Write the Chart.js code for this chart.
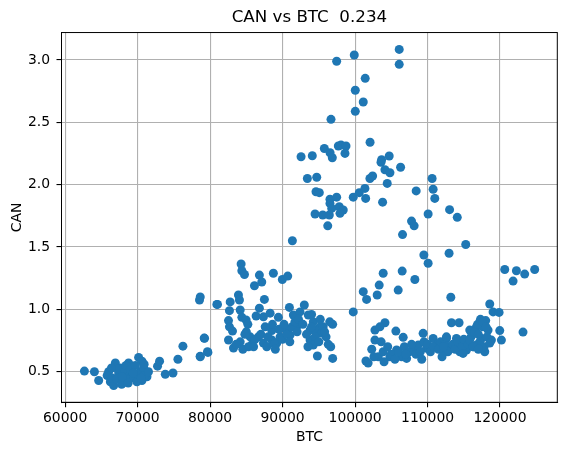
<!DOCTYPE html>
<html>
<head>
<meta charset="utf-8">
<script src="https://cdn.jsdelivr.net/npm/chart.js@4"></script>
<style>
  html, body { margin: 0; padding: 0; background: #fff; }
</style>
</head>
<body>
<canvas id="grafico" width="567" height="455"></canvas>
<script>
  // BTC (x) e CAN (y)
  const btc = [
    // grupo da esquerda
    62660, 64040, 64630, 66000, 66240, 66700, 66930, 67390, 67620, 68070,
    68540, 68760, 68990, 69230, 70140, 70600, 70370, 70830, 70600, 71290,
    72750, 73030, 73820, 74880, 75560, 76250, 78640, 79700, 79190, 78540,
    80930, 65800, 66500, 67100, 67300, 67800, 68200, 68400, 69000, 69500,
    69700, 69900, 70000, 71000, 70500, 67900, 66400, 68700, 69400, 70900,
    71500,
    // grupo do meio (parte baixa)
    91350, 84280, 84380, 84740, 86800, 87130, 86120, 88730, 89970, 90710,
    78640, 81020, 82770, 83910, 84050, 82670, 84150, 84380, 84970, 85210,
    82540, 82670, 83090, 87490, 86800, 86350, 87360, 88280, 89420, 90940,
    91490, 92410, 93000, 93550, 94240, 95160, 96910, 99750, 82540, 83230,
    84150, 84520, 85520, 86670, 87360, 87820, 88510, 88510, 89200, 89660,
    90480, 91030, 91950, 93790, 93790, 94240, 94800, 94700, 95400, 96640,
    96910, 78640, 79230, 79640,
    85000, 85800, 86200, 87000, 88000, 88900, 89500, 90000, 90600, 91300,
    91700, 92200, 92800, 93300, 94000, 94500, 95000, 95600, 96000, 96300,
    92000, 93500, 90200, 88600, 87600, 83600, 85300, 84800, 86000, 89000,
    91000, 95200, 94000, 95800, 96500,
    // grupo de cima
    106090, 106090, 99890, 97460, 101400, 100030, 101130, 100030, 96680, 102070,
    95760, 97690, 98060, 98750, 96550, 96860, 98610, 92550, 94100, 103660,
    104710, 103580, 104120, 104810, 106280, 102050, 102420, 104440, 110630, 110770,
    111000, 93420, 94710, 94610, 95070, 96540, 97460, 96540, 96780, 97820,
    98370, 97920, 94480, 95540, 96450, 96230, 99750, 100580, 101360, 101460,
    103800, 108430, 110080, 107790, 108150, 106550, 113040, 114100, 115270, 109490,
    112970, 110080,
    // grupo da direita
    120650, 122260, 123400, 124780, 121800, 103880, 106500, 108250, 103330, 105950,
    101130, 101590, 103050, 113210, 118580, 119040, 119870, 113300, 114350, 104120,
    102740, 103430, 102740, 105630, 106640, 109390, 110770, 112610, 113990, 115820,
    116740, 118020, 118350, 118810, 117890, 119960, 120190, 123170, 101500, 103200,
    103880, 104810, 105730, 106420, 107110, 108020, 108710, 109860, 111240, 112160,
    113080, 114450, 115370, 116740, 117430,
    104500, 105000, 105500, 106000, 106800, 107500, 107800, 108400, 109000, 109500,
    110000, 110400, 110800, 111500, 111800, 112400, 112800, 113500, 113800, 114200,
    114800, 115000, 115600, 116000, 116300, 116500, 117000, 117200, 117600, 117800,
    118200, 116900, 117300, 112000, 109200, 107000, 104000, 103600, 102600, 102300,
    101800, 117600, 118070, 112610, 112200, 114900, 115820, 116300, 118580, 117000
  ];

  const can = [
    0.505, 0.50, 0.43, 0.50, 0.42, 0.39, 0.57, 0.49, 0.53, 0.43,
    0.47, 0.57, 0.45, 0.50, 0.615, 0.585, 0.50, 0.53, 0.43, 0.46,
    0.545, 0.585, 0.48, 0.49, 0.60, 0.705, 0.625, 0.655, 0.77, 1.075,
    1.04, 0.47, 0.45, 0.44, 0.52, 0.40, 0.50, 0.55, 0.52, 0.46,
    0.55, 0.42, 0.48, 0.47, 0.45, 0.46, 0.53, 0.41, 0.49, 0.56,
    0.50,
    1.55, 1.364, 1.31, 1.28, 1.275, 1.22, 1.19, 1.29, 1.24, 1.267,
    1.10, 1.04, 1.06, 1.115, 1.075, 0.99, 0.995, 0.936, 0.915, 0.88,
    0.91, 0.86, 0.826, 1.08, 1.01, 0.947, 0.94, 0.97, 0.936, 1.016,
    0.955, 0.98, 1.035, 0.955, 0.90, 0.86, 0.88, 0.98, 0.755, 0.69,
    0.74, 0.68, 0.78, 0.78, 0.73, 0.70, 0.83, 0.755, 0.73, 0.78,
    0.834, 0.794, 0.86, 0.834, 0.754, 0.714, 0.626, 0.834, 0.81, 0.70,
    0.607, 0.62, 0.768, 0.66,
    0.82, 0.72, 0.76, 0.80, 0.78, 0.72, 0.84, 0.76, 0.80, 0.86,
    0.90, 0.92, 0.88, 0.80, 0.86, 0.78, 0.74, 0.86, 0.78, 0.72,
    0.82, 0.70, 0.88, 0.88, 0.86, 0.72, 0.70, 0.80, 0.70, 0.68,
    0.74, 0.92, 0.96, 0.82, 0.90,
    3.085, 2.965, 3.04, 2.99, 2.853, 2.757, 2.663, 2.588, 2.524, 2.34,
    2.29, 2.31, 2.318, 2.31, 2.256, 2.216, 2.251, 2.224, 2.232, 2.20,
    2.23, 2.18, 2.12, 2.096, 2.14, 2.05, 2.07, 2.01, 2.05, 1.963,
    1.89, 2.05, 2.06, 1.943, 1.936, 1.883, 1.90, 1.85, 1.81, 1.823,
    1.797, 1.77, 1.765, 1.757, 1.757, 1.67, 1.90, 1.936, 1.97, 1.89,
    1.86, 1.95, 1.765, 1.708, 1.67, 1.60, 1.80, 1.738, 1.52, 1.436,
    1.45, 1.37,
    1.32, 1.31, 1.283, 1.32, 1.227, 1.29, 1.307, 1.24, 1.195, 1.155,
    1.142, 1.08, 1.115, 1.097, 1.043, 0.98, 0.976, 0.893, 0.893, 0.893,
    0.834, 0.86, 0.754, 0.826, 0.776, 0.808, 0.767, 0.767, 0.767, 0.834,
    0.86, 0.91, 0.834, 0.754, 0.66, 0.83, 0.754, 0.818, 0.586, 0.62,
    0.66, 0.62, 0.674, 0.62, 0.607, 0.674, 0.714, 0.688, 0.714, 0.674,
    0.70, 0.66, 0.674, 0.714, 0.767,
    0.70, 0.64, 0.60, 0.66, 0.70, 0.66, 0.72, 0.64, 0.66, 0.74,
    0.72, 0.66, 0.70, 0.68, 0.74, 0.72, 0.66, 0.72, 0.68, 0.74,
    0.70, 0.76, 0.72, 0.78, 0.70, 0.82, 0.80, 0.74, 0.86, 0.70,
    0.78, 0.88, 0.92, 0.62, 0.60, 0.64, 0.58, 0.74, 0.62, 0.68,
    0.57, 0.90, 0.86, 0.78, 0.70, 0.647, 0.754, 0.70, 0.73, 0.68
  ];

  const ticksX = [60000, 70000, 80000, 90000, 100000, 110000, 120000];
  const ticksY = [0.5, 1.0, 1.5, 2.0, 2.5, 3.0];

  const pontos = btc.map((x, i) => ({ x: x, y: can[i] }));

  const fonte = "'DejaVu Sans', sans-serif";
  const cinza = '#b0b0b0';

  // moldura completa (topo e direita) + título centrado sobre a área do gráfico
  const moldura = {
    id: 'moldura',
    afterLayout(chart) {
      const t = chart.titleBlock;
      if (t) {
        t.left = chart.chartArea.left;
        t.right = chart.chartArea.right;
      }
    },
    afterDraw(chart) {
      const { ctx, chartArea: a } = chart;
      ctx.save();
      ctx.strokeStyle = '#000';
      ctx.lineWidth = 1;
      ctx.strokeRect(a.left, a.top, a.right - a.left, a.bottom - a.top);
      ctx.restore();
    }
  };

  new Chart(document.getElementById('grafico'), {
    type: 'scatter',
    data: {
      datasets: [{
        data: pontos,
        backgroundColor: '#1f77b4',
        borderWidth: 0,
        pointRadius: 4.5,
        pointHoverRadius: 4.5
      }]
    },
    options: {
      responsive: false,
      animation: false,
      devicePixelRatio: 1,
      layout: { padding: { left: 0, right: 9.7, top: 0, bottom: 0 } },
      plugins: {
        legend: { display: false },
        tooltip: { enabled: false },
        title: {
          display: true,
          text: 'CAN vs BTC  0.234',
          color: '#000',
          font: { family: fonte, size: 16.7, weight: 'normal' },
          padding: { top: 8, bottom: 4.5 }
        }
      },
      scales: {
        x: {
          type: 'linear',
          min: 59500,
          max: 127900,
          afterBuildTicks: (axis) => { axis.ticks = ticksX.map(v => ({ value: v })); },
          afterFit: (axis) => { axis.height = 52.7; },
          ticks: {
            color: '#000',
            padding: 3,
            maxRotation: 0,
            font: { family: fonte, size: 13.9 },
            callback: (v) => String(v)
          },
          grid: { color: cinza, lineWidth: 1.1, tickColor: '#000', tickLength: 5 },
          border: { color: '#000', width: 1 },
          title: {
            display: true,
            text: 'BTC',
            color: '#000',
            font: { family: fonte, size: 13.9 },
            padding: { top: 4, bottom: 9.7 }
          }
        },
        y: {
          type: 'linear',
          min: 0.255,
          max: 3.22,
          afterBuildTicks: (axis) => { axis.ticks = ticksY.map(v => ({ value: v })); },
          afterFit: (axis) => { axis.width = 61.5; },
          ticks: {
            color: '#000',
            padding: 6.5,
            font: { family: fonte, size: 13.9 },
            callback: (v) => v.toFixed(1)
          },
          grid: { color: cinza, lineWidth: 1.1, tickColor: '#000', tickLength: 5 },
          border: { color: '#000', width: 1 },
          title: {
            display: true,
            text: 'CAN',
            color: '#000',
            font: { family: fonte, size: 13.9 },
            padding: { top: 8.7, bottom: 4 }
          }
        }
      }
    },
    plugins: [moldura]
  });
</script>
</body>
</html>
